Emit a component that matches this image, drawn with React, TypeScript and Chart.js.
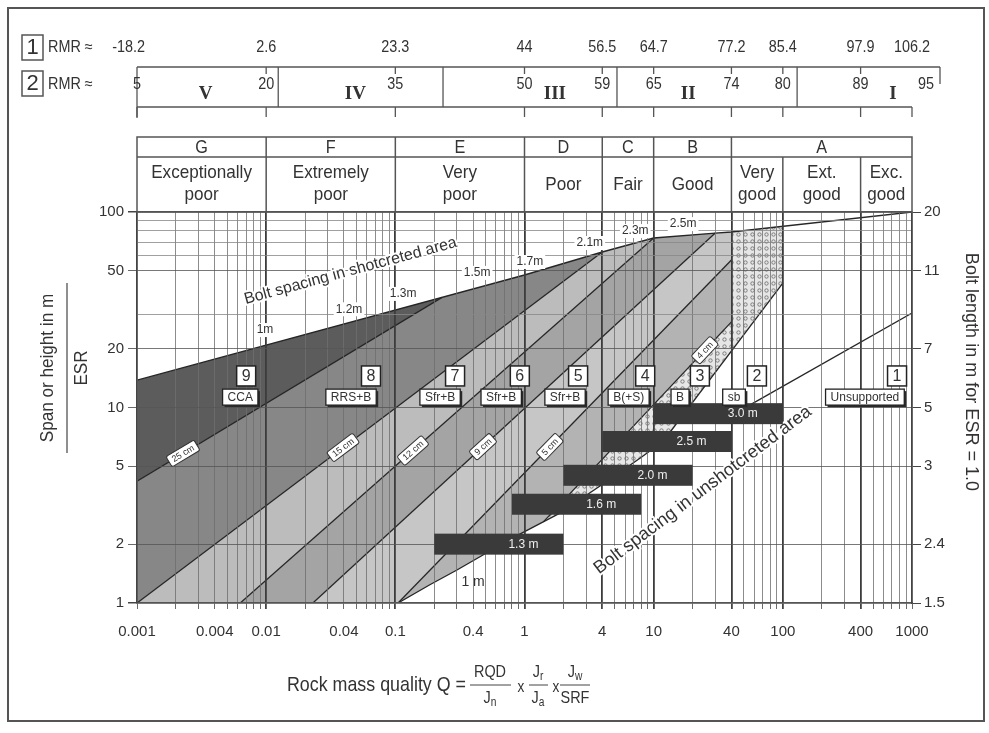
import React, { useEffect, useRef } from 'react';
import { Chart, registerables } from 'chart.js';

Chart.register(...registerables);

type P = [number, number];

const FONT = "'Liberation Sans Narrow', 'Liberation Sans', Arial, sans-serif";
const FONT_R = "'Liberation Sans', Arial, sans-serif";
const SERIF = "'Liberation Serif', 'DejaVu Serif', serif";
const INK = '#333333';

// ---------- axis ticks ----------
const xTickValues = [0.001, 0.004, 0.01, 0.04, 0.1, 0.4, 1, 4, 10, 40, 100, 400, 1000];
const xTickLabels = ['0.001', '0.004', '0.01', '0.04', '0.1', '0.4', '1', '4', '10', '40', '100', '400', '1000'];
const xStrongGrid = [0.01, 0.1, 1, 4, 10, 40, 100, 400];
const yTickValues = [1, 2, 5, 10, 20, 50, 100];
const yTickLabels = ['1', '2', '5', '10', '20', '50', '100'];
const boltLengthLabels = ['1.5', '2.4', '3', '5', '7', '11', '20'];
const yExtraGrid = [30, 60, 70, 80, 90];

// ---------- header table ----------
const classBounds = [0.001, 0.01, 0.1, 1, 4, 10, 40, 1000];
const classLetters = ['G', 'F', 'E', 'D', 'C', 'B', 'A'];
const qualityBounds = [0.001, 0.01, 0.1, 1, 4, 10, 40, 100, 400, 1000];
const qualityNames = [
  ['Exceptionally', 'poor'], ['Extremely', 'poor'], ['Very', 'poor'], ['Poor'], ['Fair'], ['Good'],
  ['Very', 'good'], ['Ext.', 'good'], ['Exc.', 'good'],
];

// ---------- RMR scales ----------
const rmrQ = [0.001, 0.01, 0.1, 1, 4, 10, 40, 100, 400, 1000];
const rmr1Labels = ['-18.2', '2.6', '23.3', '44', '56.5', '64.7', '77.2', '85.4', '97.9', '106.2'];
const rmr2Labels = ['5', '20', '35', '50', '59', '65', '74', '80', '89', '95'];
const rmrClassBounds = [0.0124, 0.234, 5.2, 129];
const rmrClassNames = ['V', 'IV', 'III', 'II', 'I'];
const rmrClassLabelQ = [0.0034, 0.049, 1.72, 18.5, 713];

// ---------- boundary lines (Q, Span/ESR) ----------
const topLine: P[] = [[0.001, 13.8], [1, 47.6], [4, 62.4], [10, 73.6], [30, 78], [40, 79], [1000, 100]];
const line98: P[] = [[0.001, 4.2], [0.23, 36.6]];
const line87: P[] = [[0.001, 1], [4, 62.4]];
const line76: P[] = [[0.0063, 1], [10, 73.6]];
const line65: P[] = [[0.023, 1], [30, 78]];
const line54: P[] = [[0.105, 1], [40, 56.8]];
const line43: P[] = [[1.4, 2.6], [40, 27.4]];
const line32: P[] = [[11.8, 6.7], [100, 43.3]];
const line21: P[] = [[50, 9.9], [1000, 30.4]];
const unshotLine: P[] = [[0.105, 1], [0.185, 1.24], [0.3, 1.475], [0.54, 1.845], [0.92, 2.25], [1.88, 2.88], [3.84, 3.97], [7.83, 5.5], [11.8, 6.7]];

// ---------- support category regions ----------
const region9: P[] = [[0.001, 13.8], [0.23, 36.6], [0.001, 4.2]];
const region8: P[] = [[0.001, 4.2], [0.23, 36.6], [1, 47.6], [4, 62.4], [0.001, 1]];
const region7: P[] = [[0.001, 1], [4, 62.4], [10, 73.6], [0.0063, 1]];
const region6: P[] = [[0.0063, 1], [10, 73.6], [30, 78], [0.023, 1]];
const region5: P[] = [[0.023, 1], [30, 78], [40, 79], [40, 56.8], [0.105, 1]];
const region4: P[] = [[0.105, 1], [40, 56.8], [40, 27.4], [1.4, 2.6], [0.92, 2.25], [0.54, 1.845], [0.3, 1.475], [0.185, 1.24]];
const region3: P[] = [[1.4, 2.6], [40, 27.4], [40, 79], [100, 84.6], [100, 43.3], [11.8, 6.7], [7.83, 5.5], [3.84, 3.97], [1.88, 2.88]];

// ---------- category labels ----------
const catNumbers = ['9', '8', '7', '6', '5', '4', '3', '2', '1'];
const catNames = ['CCA', 'RRS+B', 'Sfr+B', 'Sfr+B', 'Sfr+B', 'B(+S)', 'B', 'sb', 'Unsupported'];
const catNumberQ = [0.007, 0.0648, 0.29, 0.92, 2.6, 8.6, 22.8, 63, 766];
const catNameQ = [0.0063, 0.0454, 0.222, 0.66, 2.06, 6.4, 16, 41.9, 432];
const catNumberY = 14.5;
const catNameY = 11.3;

// ---------- bolt spacing in unshotcreted area ----------
const barLabels = ['1.3 m', '1.6 m', '2.0 m', '2.5 m', '3.0 m'];
const barQStart = [0.2, 0.8, 2, 4, 10];
const barQEnd = [2, 8, 20, 40, 100];
const barY = [2.0, 3.2, 4.5, 6.7, 9.3];

// ---------- shotcrete thickness labels on lines ----------
const thicknessLabels = ['25 cm', '15 cm', '12 cm', '9 cm', '5 cm', '4 cm'];
const thicknessLines = [line98, line87, line76, line65, line54, line43];
const thicknessQ = [0.00227, 0.0394, 0.137, 0.477, 1.57, 24.9];

// ---------- bolt spacing in shotcreted area ----------
const shotSpacingLabels = ['1m', '1.2m', '1.3m', '1.5m', '1.7m', '2.1m', '2.3m', '2.5m'];
const shotSpacingQ = [0.0098, 0.0438, 0.115, 0.43, 1.1, 3.2, 7.2, 16.9];
const shotSpacingY = [24.9, 31.8, 38.1, 48.8, 55.5, 69.4, 79.9, 86.7];

const shotText = { text: 'Bolt spacing in shotcreted area', q: 0.045, y: 49.9 };
const unshotText = { text: 'Bolt spacing in unshotcreted area', q: 24, y: 3.78 };
const oneMeter = { text: '1 m', q: 0.4, y: 1.28 };

// x grid positions (1..9 per decade)
const xGridValues: number[] = [];
for (let e = -3; e < 3; e++) for (let m = 1; m < 10; m++) xGridValues.push(+(m * Math.pow(10, e)).toPrecision(6));
xGridValues.push(1000);
const yGridValues = [...yTickValues, ...yExtraGrid].sort((a, b) => a - b);

const near = (a: number, b: number) => Math.abs(a - b) / b < 1e-6;

const overlayPlugin = {
  id: 'qOverlay',
  afterDraw(chart: any) {
    const ctx: CanvasRenderingContext2D = chart.ctx;
    const xs = chart.scales.x;
    const ys = chart.scales.y;
    const X = (q: number) => xs.getPixelForValue(q);
    const Y = (v: number) => ys.getPixelForValue(v);
    const { left, right, top } = chart.chartArea;

    const txt = (s: string, x: number, y: number, font: string, align: CanvasTextAlign = 'center', color = INK, k = 1) => {
      ctx.save();
      ctx.font = font;
      ctx.fillStyle = color;
      ctx.textAlign = align;
      ctx.textBaseline = 'middle';
      ctx.translate(x, y);
      ctx.scale(k, 1);
      ctx.fillText(s, 0, 0);
      ctx.restore();
    };
    const seg = (x0: number, y0: number, x1: number, y1: number) => {
      ctx.beginPath();
      ctx.moveTo(x0, y0);
      ctx.lineTo(x1, y1);
      ctx.stroke();
    };
    const onLine = (pts: P[], q: number) => {
      const pp = pts.map(([a, b]) => [X(a), Y(b)]);
      const x = X(q);
      for (let i = 0; i < pp.length - 1; i++) {
        const [x0, y0] = pp[i];
        const [x1, y1] = pp[i + 1];
        if (x >= Math.min(x0, x1) && x <= Math.max(x0, x1)) {
          const t = (x - x0) / (x1 - x0);
          return { x, y: y0 + t * (y1 - y0), a: Math.atan2(y1 - y0, x1 - x0) };
        }
      }
      return { x, y: Y(pts[0][1]), a: 0 };
    };

    ctx.save();

    // ----- header table -----
    const hTop = 137;
    const hMid = 157;
    const HK = 0.9;
    ctx.strokeStyle = '#555';
    ctx.lineWidth = 1.5;
    ctx.strokeRect(left, hTop, right - left, top - hTop);
    seg(left, hMid, right, hMid);
    classBounds.slice(1, -1).forEach((q) => seg(X(q), hTop, X(q), top));
    qualityBounds.filter((q) => !classBounds.includes(q)).forEach((q) => seg(X(q), hMid, X(q), top));
    classLetters.forEach((s, i) => {
      txt(s, (X(classBounds[i]) + X(classBounds[i + 1])) / 2, 148, `18px ${FONT}`, 'center', INK, HK);
    });
    qualityNames.forEach((lines, i) => {
      const cx = (X(qualityBounds[i]) + X(qualityBounds[i + 1])) / 2;
      if (lines.length === 2) {
        txt(lines[0], cx, 173, `19px ${FONT}`, 'center', INK, HK);
        txt(lines[1], cx, 195, `19px ${FONT}`, 'center', INK, HK);
      } else {
        txt(lines[0], cx, 185, `19px ${FONT}`, 'center', INK, HK);
      }
    });

    // ----- RMR rows -----
    const RK = 0.9;
    ctx.strokeStyle = '#555';
    ctx.lineWidth = 1.5;
    ctx.strokeRect(22, 35, 21, 25);
    txt('1', 32.5, 48, `22px ${FONT_R}`);
    txt('RMR \u2248', 48, 48, `16px ${FONT}`, 'left', INK, RK);
    rmrQ.forEach((q, i) => {
      if (i === 0) txt(rmr1Labels[i], X(q) + 8, 48, `16px ${FONT}`, 'right', INK, RK);
      else txt(rmr1Labels[i], X(q), 48, `16px ${FONT}`, 'center', INK, RK);
    });
    ctx.strokeRect(22, 71, 21, 25);
    txt('2', 32.5, 84, `22px ${FONT_R}`);
    txt('RMR \u2248', 48, 85, `16px ${FONT}`, 'left', INK, RK);
    ctx.lineWidth = 1.3;
    seg(X(0.001), 67, 940, 67);
    seg(X(0.001), 107, X(1000), 107);
    seg(X(0.001), 67, X(0.001), 118);
    seg(940, 67, 940, 84);
    rmrClassBounds.forEach((q) => seg(X(q), 67, X(q), 107));
    rmrQ.forEach((q, i) => {
      seg(X(q), 107, X(q), 117);
      if (i > 0 && i < rmrQ.length - 1) seg(X(q), 67, X(q), 74);
    });
    rmrQ.forEach((q, i) => {
      const dx = i === rmrQ.length - 1 ? 14 : 0;
      txt(rmr2Labels[i], X(q) + dx, 85, `16px ${FONT}`, 'center', INK, RK);
    });
    rmrClassNames.forEach((s, i) => txt(s, X(rmrClassLabelQ[i]), 94, `bold 19px ${SERIF}`));

    // ----- shotcrete thickness labels on lines -----
    thicknessLabels.forEach((s, i) => {
      const p = onLine(thicknessLines[i], thicknessQ[i]);
      ctx.save();
      ctx.translate(p.x, p.y);
      ctx.rotate(p.a);
      ctx.font = `9px ${FONT_R}`;
      const w = ctx.measureText(s).width + 8;
      ctx.fillStyle = '#fff';
      ctx.strokeStyle = '#333';
      ctx.lineWidth = 1;
      ctx.beginPath();
      ctx.roundRect(-w / 2, -6, w, 12, 2);
      ctx.fill();
      ctx.stroke();
      txt(s, 0, 0.5, `9px ${FONT_R}`);
      ctx.restore();
    });

    // ----- bolt spacing labels along the top line -----
    shotSpacingLabels.forEach((s, i) => {
      const x = X(shotSpacingQ[i]);
      const y = Y(shotSpacingY[i]);
      ctx.font = `12px ${FONT_R}`;
      const w = ctx.measureText(s).width;
      ctx.fillStyle = '#fff';
      ctx.fillRect(x - w / 2 - 2, y - 7, w + 4, 14);
      txt(s, x, y, `12px ${FONT_R}`);
    });

    // rotated area labels
    {
      const p0 = [X(topLine[0][0]), Y(topLine[0][1])];
      const p1 = [X(topLine[1][0]), Y(topLine[1][1])];
      const a = Math.atan2(p1[1] - p0[1], p1[0] - p0[0]);
      ctx.save();
      ctx.translate(X(shotText.q), Y(shotText.y));
      ctx.rotate(a);
      ctx.font = `16px ${FONT_R}`;
      ctx.lineJoin = 'round';
      ctx.strokeStyle = '#fff';
      ctx.lineWidth = 4;
      ctx.textAlign = 'center';
      ctx.textBaseline = 'middle';
      ctx.strokeText(shotText.text, 0, 0);
      ctx.fillStyle = INK;
      ctx.fillText(shotText.text, 0, 0);
      ctx.restore();

      ctx.save();
      ctx.translate(X(unshotText.q), Y(unshotText.y));
      ctx.rotate((-37 * Math.PI) / 180);
      ctx.font = `18px ${FONT_R}`;
      ctx.lineJoin = 'round';
      ctx.strokeStyle = '#fff';
      ctx.lineWidth = 4;
      ctx.textAlign = 'center';
      ctx.textBaseline = 'middle';
      ctx.strokeText(unshotText.text, 0, 0);
      ctx.fillStyle = INK;
      ctx.fillText(unshotText.text, 0, 0);
      ctx.restore();
    }
    txt(oneMeter.text, X(oneMeter.q), Y(oneMeter.y), `14px ${FONT_R}`);

    // ----- spacing bars -----
    barLabels.forEach((s, i) => {
      const x0 = X(barQStart[i]);
      const x1 = X(barQEnd[i]);
      const yc = Y(barY[i]);
      ctx.fillStyle = '#3a3a3a';
      ctx.fillRect(x0, yc - 10.5, x1 - x0, 21);
      txt(s, x1 - 40, yc + 0.5, `12px ${FONT_R}`, 'center', '#eeeeee');
    });

    // ----- category labels -----
    catNumbers.forEach((s, i) => {
      const x = X(catNumberQ[i]);
      const y = Y(catNumberY);
      ctx.fillStyle = '#fff';
      ctx.fillRect(x - 9.5, y - 10, 19, 20);
      ctx.strokeStyle = '#222';
      ctx.lineWidth = 1.5;
      ctx.strokeRect(x - 9.5, y - 10, 19, 20);
      txt(s, x, y + 0.5, `16px ${FONT_R}`);
    });
    catNames.forEach((s, i) => {
      const x = X(catNameQ[i]);
      const y = Y(catNameY);
      ctx.font = `12px ${FONT_R}`;
      const w = ctx.measureText(s).width + 10;
      const h = 16;
      ctx.fillStyle = '#2a2a2a';
      ctx.fillRect(x - w / 2 + 2, y - h / 2 + 2, w, h);
      ctx.fillStyle = '#fff';
      ctx.fillRect(x - w / 2, y - h / 2, w, h);
      ctx.strokeStyle = '#222';
      ctx.lineWidth = 1.3;
      ctx.strokeRect(x - w / 2, y - h / 2, w, h);
      txt(s, x, y + 0.5, `12px ${FONT_R}`);
    });

    // ----- axis titles -----
    ctx.save();
    ctx.translate(48, 368);
    ctx.rotate(-Math.PI / 2);
    txt('Span or height in m', 0, 0, `18px ${FONT_R}`, 'center', INK, 0.95);
    txt('ESR', 0, 34, `18px ${FONT_R}`, 'center', INK, 0.95);
    ctx.restore();
    ctx.strokeStyle = '#444';
    ctx.lineWidth = 1.2;
    seg(67, 283, 67, 453);

    ctx.save();
    ctx.translate(971, 372);
    ctx.rotate(Math.PI / 2);
    txt('Bolt length in m for ESR = 1.0', 0, 0, `19px ${FONT_R}`, 'center', INK, 0.95);
    ctx.restore();

    // ----- formula -----
    const FK = 0.85;
    const rich = (parts: [string, boolean][], cx: number, y: number, size: number) => {
      const f = `${size}px ${FONT}`;
      const fs = `${Math.round(size * 0.72)}px ${FONT}`;
      let total = 0;
      parts.forEach(([s, sub]) => {
        ctx.font = sub ? fs : f;
        total += ctx.measureText(s).width * FK;
      });
      let x = cx - total / 2;
      parts.forEach(([s, sub]) => {
        const font = sub ? fs : f;
        ctx.font = font;
        const w = ctx.measureText(s).width * FK;
        txt(s, x, sub ? y + size * 0.3 : y, font, 'left', INK, FK);
        x += w;
      });
    };
    txt('Rock mass quality Q =', 466, 685, `21px ${FONT}`, 'right', INK, FK);
    ctx.strokeStyle = '#444';
    ctx.lineWidth = 1;
    seg(470, 685, 511, 685);
    rich([['RQD', false]], 490, 672, 17);
    rich([['J', false], ['n', true]], 490, 698, 17);
    txt('x', 521, 688, `16px ${FONT}`, 'center', INK, FK);
    seg(529, 685, 548, 685);
    rich([['J', false], ['r', true]], 538, 672, 17);
    rich([['J', false], ['a', true]], 538, 698, 17);
    txt('x', 556, 688, `16px ${FONT}`, 'center', INK, FK);
    seg(560, 685, 590, 685);
    rich([['J', false], ['w', true]], 575, 672, 17);
    rich([['SRF', false]], 575, 698, 17);

    // ----- outer frame -----
    ctx.strokeStyle = '#555';
    ctx.lineWidth = 2;
    ctx.strokeRect(8, 8, 976, 713);

    ctx.restore();
  },
};

const mk = (pts: P[]) => pts.map(([x, y]) => ({ x, y }));

export default function App() {
  const ref = useRef<HTMLCanvasElement>(null);
  useEffect(() => {
    const canvas = ref.current!;
    const ctx = canvas.getContext('2d')!;

    const pc = document.createElement('canvas');
    pc.width = 7;
    pc.height = 7;
    const p = pc.getContext('2d')!;
    p.fillStyle = '#e6e6e6';
    p.fillRect(0, 0, 7, 7);
    p.strokeStyle = '#7d7d7d';
    p.lineWidth = 1;
    p.beginPath();
    p.arc(3.5, 3.5, 1.7, 0, Math.PI * 2);
    p.stroke();
    const dots = ctx.createPattern(pc, 'repeat')!;

    const region = (pts: P[], color: any) => ({
      data: mk(pts),
      fill: 'shape',
      backgroundColor: color,
      borderColor: 'rgba(0,0,0,0)',
      borderWidth: 0,
      pointRadius: 0,
      order: 2,
    });
    const line = (pts: P[], w = 1.3) => ({
      data: mk(pts),
      fill: false,
      borderColor: '#262626',
      borderWidth: w,
      pointRadius: 0,
      order: 1,
    });

    const chart = new Chart(ctx, {
      type: 'line',
      data: {
        datasets: [
          region(region9, '#5c5c5c'),
          region(region8, '#878787'),
          region(region7, '#bcbcbc'),
          region(region6, '#a4a4a4'),
          region(region5, '#c6c6c6'),
          region(region4, '#b3b3b3'),
          region(region3, dots),
          line(topLine, 1.4),
          line(line98),
          line(line87),
          line(line76),
          line(line65),
          line(line54),
          line(line43),
          line(line32),
          line(line21),
          line(unshotLine),
        ] as any,
      },
      plugins: [overlayPlugin],
      options: {
        responsive: false,
        devicePixelRatio: 1,
        animation: false,
        events: [],
        layout: { padding: { left: 77, right: 17, top: 212, bottom: 90 } },
        plugins: { legend: { display: false }, tooltip: { enabled: false } },
        scales: {
          x: {
            type: 'logarithmic',
            min: 0.001,
            max: 1000,
            afterBuildTicks: (s: any) => {
              s.ticks = xGridValues.map((v) => ({ value: v }));
            },
            afterFit: (s: any) => {
              s.height = 40;
            },
            ticks: {
              autoSkip: false,
              maxRotation: 0,
              minRotation: 0,
              padding: 14,
              color: INK,
              font: { family: FONT_R, size: 15 },
              callback: (v: any) => {
                const i = xTickValues.findIndex((t) => near(Number(v), t));
                return i >= 0 ? xTickLabels[i] : '';
              },
            },
            grid: {
              z: 1,
              color: (c: any) => (xStrongGrid.some((t) => near(c.tick.value, t)) ? '#3c3c3c' : '#6e6e6e'),
              lineWidth: (c: any) => (xStrongGrid.some((t) => near(c.tick.value, t)) ? 1.8 : 0.8),
              tickLength: 6,
              tickColor: '#444',
            },
            border: { z: 1, color: '#444', width: 1.5 },
          },
          y: {
            type: 'logarithmic',
            position: 'left',
            min: 1,
            max: 100,
            afterBuildTicks: (s: any) => {
              s.ticks = yGridValues.map((v) => ({ value: v }));
            },
            afterFit: (s: any) => {
              s.width = 60;
            },
            ticks: {
              autoSkip: false,
              padding: 4,
              color: INK,
              font: { family: FONT_R, size: 15 },
              callback: (v: any) => {
                const i = yTickValues.findIndex((t) => near(Number(v), t));
                return i >= 0 ? yTickLabels[i] : '';
              },
            },
            grid: {
              z: 1,
              color: (c: any) => (yTickValues.some((t) => near(c.tick.value, t)) ? '#555' : '#888'),
              lineWidth: (c: any) => (c.tick.value === 100 || c.tick.value === 1 ? 1.5 : 0.8),
              tickLength: 9,
              tickColor: (c: any) => (yTickValues.some((t) => near(c.tick.value, t)) ? '#444' : 'rgba(0,0,0,0)'),
            },
            border: { z: 1, color: '#444', width: 1.5 },
          },
          y2: {
            type: 'logarithmic',
            position: 'right',
            min: 1,
            max: 100,
            afterBuildTicks: (s: any) => {
              s.ticks = yTickValues.map((v) => ({ value: v }));
            },
            afterFit: (s: any) => {
              s.width = 60;
            },
            ticks: {
              autoSkip: false,
              padding: 3,
              color: INK,
              font: { family: FONT_R, size: 15 },
              callback: (v: any) => {
                const i = yTickValues.findIndex((t) => near(Number(v), t));
                return i >= 0 ? boltLengthLabels[i] : '';
              },
            },
            grid: { drawOnChartArea: false, tickLength: 9, tickColor: '#444' },
            border: { z: 1, color: '#444', width: 1.5 },
          },
        },
      } as any,
    });
    return () => chart.destroy();
  }, []);

  return (
    <div style={{ position: 'fixed', left: 0, top: 0, width: 989, height: 733, background: '#fff' }}>
      <canvas ref={ref} width={989} height={733} style={{ display: 'block' }} />
    </div>
  );
}
